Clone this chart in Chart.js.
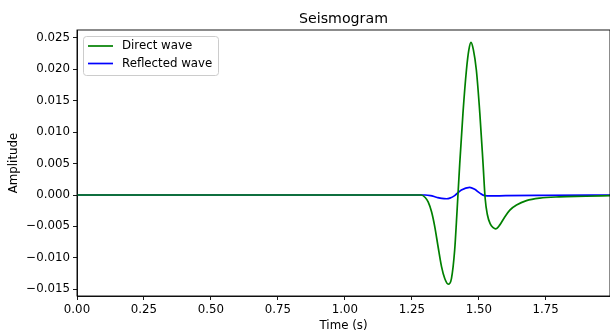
<!DOCTYPE html>
<html>
<head>
<meta charset="utf-8">
<script src="https://cdn.jsdelivr.net/npm/chart.js@4/dist/chart.umd.min.js"></script>
<style>
  html, body { margin: 0; padding: 0; background: #fff; }
  #wrap { width: 610px; height: 334px; }
</style>
</head>
<body>
<div id="wrap"><canvas id="seis" width="610" height="334"></canvas></div>
<script>
// 数据
const directTime = [0.00, 1.25, 1.285, 1.30, 1.311, 1.324, 1.336, 1.348, 1.361, 1.373, 1.386, 1.398, 1.410, 1.419, 1.429, 1.441, 1.454, 1.463, 1.471, 1.480, 1.491, 1.504, 1.516, 1.524, 1.532, 1.543, 1.554, 1.563, 1.578, 1.597, 1.616, 1.641, 1.678, 1.728, 1.80, 1.90, 1.99];
const directAmp = [0, 0, 0, -0.0004, -0.0011, -0.0027, -0.0051, -0.0082, -0.0114, -0.0133, -0.0142, -0.0133, -0.0088, -0.0025, 0.0050, 0.0130, 0.0199, 0.0231, 0.0243, 0.0231, 0.0199, 0.0130, 0.0050, -0.0006, -0.0031, -0.0046, -0.0052, -0.0054, -0.0048, -0.0035, -0.0024, -0.0016, -0.0009, -0.0005, -0.0003, -0.0002, -0.0001];

const reflTime = [0.00, 1.30, 1.32, 1.342, 1.362, 1.380, 1.392, 1.410, 1.435, 1.466, 1.485, 1.504, 1.522, 1.545, 1.60, 1.75, 1.99];
const reflAmp = [0, 0, -0.0001, -0.00035, -0.00055, -0.0006, -0.0005, -0.0001, 0.0008, 0.00123, 0.0009, 0.0003, -0.0001, -0.00015, -0.0001, -0.00005, 0];

const xTicks = [0.00, 0.25, 0.50, 0.75, 1.00, 1.25, 1.50, 1.75];
const yTicks = [-0.015, -0.010, -0.005, 0.000, 0.005, 0.010, 0.015, 0.020, 0.025];

const FONT = "'DejaVu Sans', sans-serif";

const toPoints = (ts, vs) => ts.map((t, i) => ({ x: t, y: vs[i] }));

// 边框、标题、图例
const framePlugin = {
    id: 'frame',
    afterDraw(chart) {
        const { ctx, chartArea: a } = chart;
        ctx.save();
        ctx.strokeStyle = '#000';
        ctx.lineWidth = 0.9;
        ctx.strokeRect(a.left, a.top, a.right - a.left, a.bottom - a.top);

        // 标题
        ctx.fillStyle = '#000';
        ctx.font = `14.2px ${FONT}`;
        ctx.textAlign = 'center';
        ctx.textBaseline = 'alphabetic';
        ctx.fillText('Seismogram', (a.left + a.right) / 2, a.top - 7);

        // 图例
        const bx = 83.5, by = 36.5, bw = 135, bh = 39, r = 3;
        ctx.beginPath();
        ctx.moveTo(bx + r, by);
        ctx.arcTo(bx + bw, by, bx + bw, by + bh, r);
        ctx.arcTo(bx + bw, by + bh, bx, by + bh, r);
        ctx.arcTo(bx, by + bh, bx, by, r);
        ctx.arcTo(bx, by, bx + bw, by, r);
        ctx.closePath();
        ctx.fillStyle = 'rgba(255,255,255,0.8)';
        ctx.fill();
        ctx.strokeStyle = '#cccccc';
        ctx.lineWidth = 1;
        ctx.stroke();

        const items = [['Direct wave', 'green', 46], ['Reflected wave', 'blue', 63.5]];
        ctx.font = `11.8px ${FONT}`;
        ctx.textAlign = 'left';
        ctx.textBaseline = 'middle';
        items.forEach(([label, color, y]) => {
            ctx.strokeStyle = color;
            ctx.lineWidth = 1.7;
            ctx.beginPath();
            ctx.moveTo(88, y);
            ctx.lineTo(113, y);
            ctx.stroke();
            ctx.fillStyle = '#000';
            ctx.fillText(label, 122, y);
        });
        ctx.restore();
    }
};

const ds = (label, color, pts) => ({
    label,
    data: pts,
    borderColor: color,
    backgroundColor: color,
    borderWidth: 1.7,
    pointRadius: 0,
    fill: false,
    cubicInterpolationMode: 'monotone'
});

new Chart(document.getElementById('seis').getContext('2d'), {
    type: 'line',
    data: {
        datasets: [
            ds('Direct wave', 'green', toPoints(directTime, directAmp)),
            ds('Reflected wave', 'blue', toPoints(reflTime, reflAmp))
        ]
    },
    options: {
        responsive: false,
        animation: false,
        layout: { padding: { top: 30, left: 0, right: 0, bottom: 0 } },
        plugins: {
            legend: { display: false },
            tooltip: { enabled: false },
            title: { display: false }
        },
        scales: {
            x: {
                type: 'linear',
                min: 0,
                max: 1.99,
                afterFit: (s) => { s.height = 38; },
                afterBuildTicks: (s) => { s.ticks = xTicks.map(v => ({ value: v })); },
                grid: { display: true, drawOnChartArea: false, drawTicks: true, tickLength: 4, tickColor: '#000', lineWidth: 0.9 },
                border: { display: true, color: '#000', width: 0.9 },
                ticks: {
                    color: '#000',
                    font: { family: FONT, size: 11.8 },
                    padding: 3,
                    maxRotation: 0,
                    autoSkip: false,
                    callback: (v) => Number(v).toFixed(2)
                },
                title: {
                    display: true,
                    text: 'Time (s)',
                    color: '#000',
                    font: { family: FONT, size: 11.8 },
                    padding: { top: 0, bottom: 1 }
                }
            },
            y: {
                type: 'linear',
                min: -0.01608,
                max: 0.02627,
                afterFit: (s) => { s.width = 77; },
                afterBuildTicks: (s) => { s.ticks = yTicks.map(v => ({ value: v })); },
                grid: { display: true, drawOnChartArea: false, drawTicks: true, tickLength: 4, tickColor: '#000', lineWidth: 0.9 },
                border: { display: true, color: '#000', width: 0.9 },
                ticks: {
                    color: '#000',
                    font: { family: FONT, size: 11.8 },
                    padding: 3,
                    autoSkip: false,
                    callback: (v) => Number(v).toFixed(3).replace('-', '\u2212')
                },
                title: {
                    display: true,
                    text: 'Amplitude',
                    color: '#000',
                    font: { family: FONT, size: 11.8 },
                    padding: { top: 7, bottom: 0 }
                }
            }
        }
    },
    plugins: [framePlugin]
});
</script>
</body>
</html>
